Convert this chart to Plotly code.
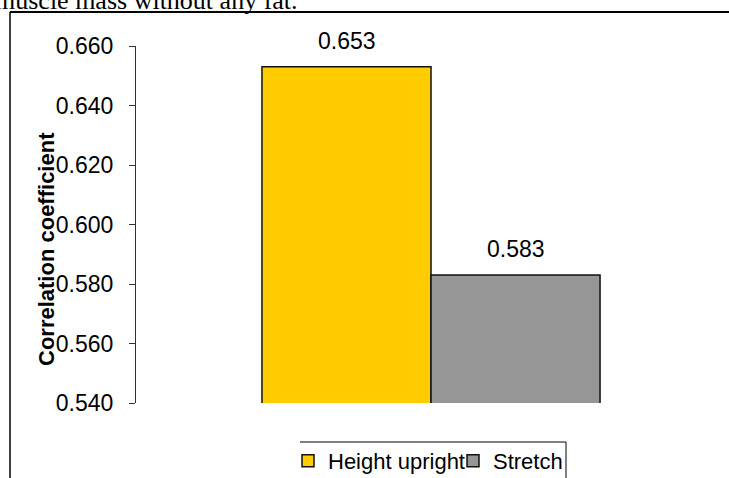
import plotly.graph_objects as go

# Correlation of body-height measures with lean muscle mass
category = ["Lean mass"]
series_names = ["Height upright", "Stretch"]
series_values = [0.653, 0.583]
series_colors = ["#FFCC00", "#969696"]

y_min, y_max, y_step = 0.540, 0.660, 0.020

W, H = 729, 478
L, R, T, B = 136, 3, 46, 75
PW, PH = W - L - R, H - T - B


def xp(px):
    return (px - L) / PW


def yp(py):
    return (H - B - py) / PH


fig = go.Figure()
for name, val, col in zip(series_names, series_values, series_colors):
    fig.add_trace(go.Bar(
        x=category, y=[val], name=name,
        marker=dict(color=col, line=dict(color="#111111", width=1.5)),
        hoverinfo="skip",
    ))

# value labels above each bar
group_half = 84.5
for i, val in enumerate(series_values):
    fig.add_annotation(
        x=category[0], y=val, xref="x", yref="y",
        text=f"{val:.3f}", showarrow=False,
        xshift=(-group_half if i == 0 else group_half), yshift=26,
        xanchor="center", yanchor="middle",
        font=dict(family="Liberation Sans, Arial", size=23, color="#000000"),
    )

# y-axis title
fig.add_annotation(
    x=xp(46), y=yp(249), xref="paper", yref="paper",
    text="<b>Correlation coefficient</b>", textangle=-90, showarrow=False,
    xanchor="center", yanchor="middle",
    font=dict(family="Liberation Sans, Arial", size=22, color="#000000"),
)

# end of the caption line above the chart
fig.add_annotation(
    x=xp(-7), y=yp(0), xref="paper", yref="paper",
    text="muscle mass without any fat.", showarrow=False,
    xanchor="left", yanchor="middle",
    font=dict(family="Liberation Serif, Times New Roman", size=26, color="#000000"),
)

line = dict(color="#000000", width=1.5)
shapes = [
    # outer chart frame (left and top edges)
    dict(type="line", xref="paper", yref="paper", x0=xp(10), x1=xp(10), y0=yp(12), y1=yp(480), line=line),
    dict(type="line", xref="paper", yref="paper", x0=xp(10), x1=xp(731), y0=yp(12), y1=yp(12), line=dict(color="#000000", width=2)),
    # legend box edges
    dict(type="line", xref="paper", yref="paper", x0=xp(300), x1=xp(566), y0=yp(442), y1=yp(442), line=dict(color="#000000", width=1)),
    dict(type="line", xref="paper", yref="paper", x0=xp(566), x1=xp(566), y0=yp(442), y1=yp(480), line=dict(color="#000000", width=1)),
]

fig.update_layout(
    width=W, height=H,
    margin=dict(l=L, r=R, t=T, b=B, pad=0, autoexpand=False),
    paper_bgcolor="#FFFFFF", plot_bgcolor="#FFFFFF",
    barmode="group", bargap=0.427, bargroupgap=0,
    font=dict(family="Liberation Sans, Arial", size=22, color="#000000"),
    shapes=shapes,
    showlegend=True,
    legend=dict(
        orientation="h", x=xp(288), y=yp(440), xanchor="left", yanchor="top",
        bgcolor="rgba(0,0,0,0)", borderwidth=0, entrywidth=120,
        font=dict(family="Liberation Sans, Arial", size=22, color="#000000"),
        traceorder="normal",
    ),
    xaxis=dict(
        range=[-0.5, 0.5],
        showline=False, showgrid=False, zeroline=False, showticklabels=False,
        ticks="", fixedrange=True,
    ),
    yaxis=dict(
        range=[y_min, y_max], dtick=y_step, tick0=y_min, tickformat=".3f",
        showline=True, linecolor="#333333", linewidth=1,
        ticks="outside", ticklen=6, tickcolor="#333333", tickwidth=1,
        ticklabelstandoff=11,
        showgrid=False, zeroline=False,
        tickfont=dict(family="Liberation Sans, Arial", size=23, color="#000000"),
    ),
)

fig.write_html("out.html")
